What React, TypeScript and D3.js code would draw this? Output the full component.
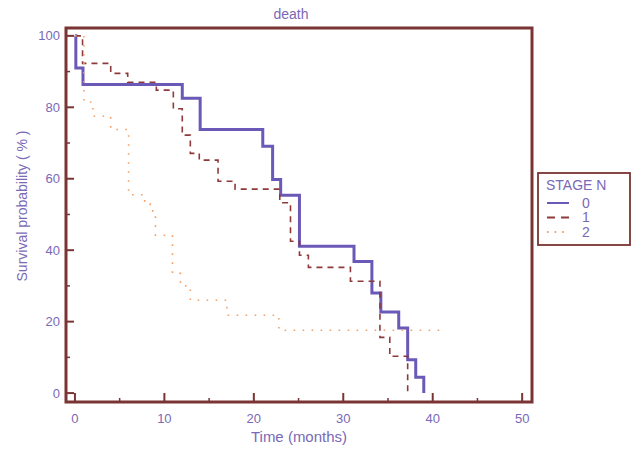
import { useMemo } from "react";
import * as d3 from "d3";

const WIDTH = 634;
const HEIGHT = 450;
const FRAME = { left: 66, right: 532, top: 28, bottom: 402 };

const FRAME_COLOR = "#7b3434";
const TEXT_COLOR = "#7a69b6";
const FONT = "'Liberation Sans', Arial, sans-serif";

// survival curves (months, %)
const stage0Times = [0, 0.1, 0.9, 12.0, 14.0, 21.0, 22.1, 23.0, 25.1, 31.2, 33.2, 34.2, 36.2, 37.2, 38.1, 39.0];
const stage0Surv = [100, 91.0, 86.4, 82.5, 73.8, 69.1, 59.8, 55.4, 41.1, 36.8, 28.0, 22.7, 18.2, 9.3, 4.4, 0];

const stage1Times = [0, 0.85, 4.0, 5.9, 9.1, 11.0, 12.0, 12.9, 13.9, 16.0, 17.9, 22.9, 24.1, 25.1, 26.1, 30.8, 34.1, 35.2, 37.2];
const stage1Surv = [100, 92.3, 89.5, 87.0, 84.8, 79.6, 72.2, 67.1, 65.2, 59.3, 57.1, 53.3, 42.5, 38.6, 35.2, 31.3, 15.6, 10.3, 0];

const stage2Times = [0, 1.0, 2.0, 4.0, 6.0, 7.8, 8.4, 9.0, 10.9, 11.8, 12.9, 17.0, 22.8, 41.0];
const stage2Surv = [100, 81.5, 77.5, 73.8, 55.5, 53.0, 51.0, 44.2, 33.5, 30.0, 26.0, 21.8, 17.6, 17.6];

const xMajorTicks = [0, 10, 20, 30, 40, 50];
const xMinorTicks = [5, 15, 25, 35, 45];
const yMajorTicks = [0, 20, 40, 60, 80, 100];
const yMinorTicks = [10, 30, 50, 70, 90];

const legendLabels = ["0", "1", "2"];

const SERIES = [
  { times: stage0Times, surv: stage0Surv, color: "#6b59b8", width: 3, dash: null, legendDash: null },
  { times: stage1Times, surv: stage1Surv, color: "#8e3a3a", width: 1.6, dash: "6,5", legendDash: "8,6" },
  { times: stage2Times, surv: stage2Surv, color: "#f2a068", width: 1.6, dash: "1.6,7.4", legendDash: "1.6,6" },
];

const App = () => {
  const xScale = useMemo(
    () => d3.scaleLinear().domain([-1, 51.1]).range([FRAME.left, FRAME.right]),
    []
  );
  const yScale = useMemo(
    () => d3.scaleLinear().domain([-2.5, 102.2]).range([FRAME.bottom, FRAME.top]),
    []
  );

  const lineGen = d3
    .line<[number, number]>()
    .x((d) => xScale(d[0]))
    .y((d) => yScale(d[1]))
    .curve(d3.curveStepAfter);

  const paths = SERIES.map((s, i) => {
    const pts = s.times.map((t, j) => [t, s.surv[j]] as [number, number]);
    return (
      <path
        key={i}
        d={lineGen(pts) || ""}
        fill="none"
        stroke={s.color}
        strokeWidth={s.width}
        strokeDasharray={s.dash || undefined}
      />
    );
  });

  const legendX = 538;
  const legendY = 173;

  return (
    <svg
      width={WIDTH}
      height={HEIGHT}
      style={{ position: "absolute", left: 0, top: 0, background: "#fff" }}
      fontFamily={FONT}
    >
      <text x={291} y={19} textAnchor="middle" fontSize={14} fill={TEXT_COLOR}>
        death
      </text>

      {paths}

      {/* frame */}
      <rect
        x={FRAME.left}
        y={FRAME.top}
        width={FRAME.right - FRAME.left}
        height={FRAME.bottom - FRAME.top}
        fill="none"
        stroke={FRAME_COLOR}
        strokeWidth={3}
      />

      {/* x ticks */}
      {xMajorTicks.map((t) => (
        <g key={"xm" + t}>
          <line x1={xScale(t)} x2={xScale(t)} y1={FRAME.bottom} y2={FRAME.bottom - 9} stroke={FRAME_COLOR} strokeWidth={2} />
          <text x={xScale(t)} y={423} textAnchor="middle" fontSize={13} fill={TEXT_COLOR}>
            {t}
          </text>
        </g>
      ))}
      {xMinorTicks.map((t) => (
        <line key={"xn" + t} x1={xScale(t)} x2={xScale(t)} y1={FRAME.bottom} y2={FRAME.bottom - 4} stroke={FRAME_COLOR} strokeWidth={1.5} />
      ))}

      {/* y ticks */}
      {yMajorTicks.map((v) => (
        <g key={"ym" + v}>
          <line x1={FRAME.left} x2={FRAME.left + 8} y1={yScale(v)} y2={yScale(v)} stroke={FRAME_COLOR} strokeWidth={2} />
          <text x={60} y={yScale(v)} dy="0.35em" textAnchor="end" fontSize={13} fill={TEXT_COLOR}>
            {v}
          </text>
        </g>
      ))}
      {yMinorTicks.map((v) => (
        <line key={"yn" + v} x1={FRAME.left} x2={FRAME.left + 4} y1={yScale(v)} y2={yScale(v)} stroke={FRAME_COLOR} strokeWidth={1.5} />
      ))}

      {/* axis titles */}
      <text x={299} y={442} textAnchor="middle" fontSize={15} fill={TEXT_COLOR}>
        Time (months)
      </text>
      <text
        transform={`translate(27,206) rotate(-90)`}
        textAnchor="middle"
        fontSize={14}
        fill={TEXT_COLOR}
      >
        Survival probability ( % )
      </text>

      {/* legend */}
      <rect x={legendX} y={legendY} width={92} height={72} fill="#fff" stroke={FRAME_COLOR} strokeWidth={1.8} />
      <text x={546} y={190} fontSize={14} fill={TEXT_COLOR}>
        STAGE N
      </text>
      {legendLabels.map((lab, i) => {
        const s = SERIES[i];
        const yy = 203 + i * 14.5;
        return (
          <g key={"lg" + lab}>
            <line
              x1={547}
              x2={569}
              y1={yy}
              y2={yy}
              stroke={s.color}
              strokeWidth={i === 0 ? 2 : 1.8}
              strokeDasharray={s.legendDash || undefined}
            />
            <text x={582} y={yy} dy="0.35em" fontSize={14} fill={TEXT_COLOR}>
              {lab}
            </text>
          </g>
        );
      })}
    </svg>
  );
};

export default App;
